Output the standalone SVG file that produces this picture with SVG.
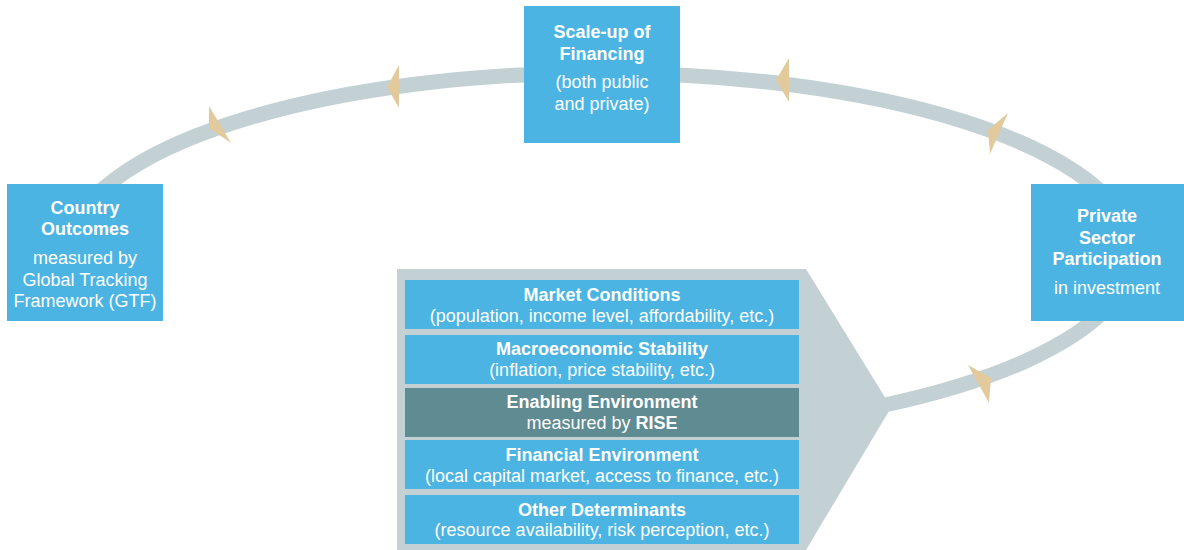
<svg xmlns="http://www.w3.org/2000/svg" width="1184" height="550" viewBox="0 0 1184 550">
<style>
.box{fill:#4BB4E2}
.dark{fill:#5F8B92}
.ring{fill:none;stroke:#C3D1D4;stroke-width:15}
.panel{fill:#C3D1D4}
.ah{fill:#E2CA9C}
text{font-family:"Liberation Sans",Arial,sans-serif;font-size:18px;fill:#FFFFFF;text-anchor:middle}
.b{font-weight:bold}
</style>
<rect width="1184" height="550" fill="#FFFFFF"/>
<g id="connectors">
<path class="ring" d="M 885 405 A 532 180 0 1 0 87 300"/>
<polygon class="panel" points="397,269 806,269 886,399 889,411 806,550 397,550"/>
<polygon class="ah" points="209,106 231,143 209,128"/>
<polygon class="ah" points="399,65 387,87 399,108"/>
<polygon class="ah" points="789,58 776,80 789,102"/>
<polygon class="ah" points="1008,113 988,130 990,154"/>
<polygon class="ah" points="968,365 991,378 989,403"/>
</g>
<g id="scale-up">
<rect class="box" x="524" y="6" width="156" height="137"/>
<text x="602" y="38" class="b">Scale-up of</text>
<text x="602" y="60" class="b">Financing</text>
<text x="602" y="88">(both public</text>
<text x="602" y="110">and private)</text>
</g>
<g id="country-outcomes">
<rect class="box" x="7" y="184" width="156" height="137"/>
<text x="85" y="214" class="b">Country</text>
<text x="85" y="235" class="b">Outcomes</text>
<text x="85" y="264">measured by</text>
<text x="85" y="286">Global Tracking</text>
<text x="85" y="307">Framework (GTF)</text>
</g>
<g id="private-sector">
<rect class="box" x="1031" y="184" width="153" height="137"/>
<text x="1107" y="222" class="b">Private</text>
<text x="1107" y="244" class="b">Sector</text>
<text x="1107" y="265" class="b">Participation</text>
<text x="1107" y="294">in investment</text>
</g>
<g id="market-conditions">
<rect class="box" x="405" y="280" width="394" height="49"/>
<text x="602" y="301" class="b">Market Conditions</text>
<text x="602" y="322">(population, income level, affordability, etc.)</text>
</g>
<g id="macroeconomic-stability">
<rect class="box" x="405" y="335" width="394" height="49"/>
<text x="602" y="355" class="b">Macroeconomic Stability</text>
<text x="602" y="376">(inflation, price stability, etc.)</text>
</g>
<g id="enabling-environment">
<rect class="dark" x="405" y="388" width="394" height="49"/>
<text x="602" y="408" class="b">Enabling Environment</text>
<text x="602" y="429">measured by <tspan class="b">RISE</tspan></text>
</g>
<g id="financial-environment">
<rect class="box" x="405" y="440" width="394" height="49"/>
<text x="602" y="461" class="b">Financial Environment</text>
<text x="602" y="482">(local capital market, access to finance, etc.)</text>
</g>
<g id="other-determinants">
<rect class="box" x="405" y="495" width="394" height="49"/>
<text x="602" y="516" class="b">Other Determinants</text>
<text x="602" y="536">(resource availability, risk perception, etc.)</text>
</g>
</svg>
